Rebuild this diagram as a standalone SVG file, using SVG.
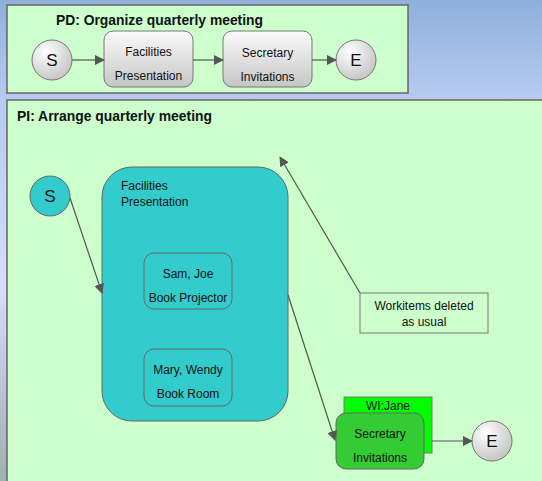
<svg xmlns="http://www.w3.org/2000/svg" width="542" height="481" viewBox="0 0 542 481">
<defs>
<linearGradient id="bg" x1="0" y1="0" x2="0" y2="1">
<stop offset="0" stop-color="#8db0dc"/>
<stop offset="0.2" stop-color="#b6caf0"/>
<stop offset="0.6" stop-color="#d4dcfa"/>
<stop offset="1" stop-color="#9fb0b0"/>
</linearGradient>
<linearGradient id="gray" x1="0" y1="0" x2="0" y2="1">
<stop offset="0" stop-color="#fbfbfb"/>
<stop offset="1" stop-color="#c6c6c6"/>
</linearGradient>
<radialGradient id="ball" cx="0.35" cy="0.3" r="0.8">
<stop offset="0" stop-color="#ffffff"/>
<stop offset="1" stop-color="#c0c0c0"/>
</radialGradient>
<marker id="arr" viewBox="0 0 10 10" refX="9" refY="5" markerWidth="10" markerHeight="10" markerUnits="userSpaceOnUse" orient="auto">
<path d="M0,0 L10,5 L0,10 z" fill="#555"/>
</marker>
<style>
text{font-family:"Liberation Sans",Arial,sans-serif;font-size:12px;fill:#111;}
.t{font-weight:bold;font-size:14px;}
.c{text-anchor:middle;}
.big{font-size:17px;}
.pane{fill:#ccffcc;stroke:#666;stroke-width:1.5;}
.gnode{fill:url(#gray);stroke:#777;stroke-width:1;}
.ball{fill:url(#ball);stroke:#777;stroke-width:1;}
.teal{fill:#33cccc;stroke:#666;stroke-width:1;}
.conn{stroke:#555;stroke-width:1.2;fill:none;marker-end:url(#arr);}
</style>
</defs>
<rect x="0" y="0" width="542" height="481" fill="url(#bg)"/>
<g id="pd">
<rect class="pane" x="7" y="5" width="401" height="88"/>
<text class="t" x="56" y="25" textLength="207" lengthAdjust="spacingAndGlyphs">PD: Organize quarterly meeting</text>
</g>
<g id="pd-s"><circle class="ball" cx="52" cy="60" r="20"/><text class="c big" x="52" y="66">S</text></g>
<g id="pd-fac"><rect class="gnode" x="104" y="31" width="89" height="56" rx="9"/><text class="c" x="148.5" y="56">Facilities</text><text class="c" x="148.5" y="80">Presentation</text></g>
<g id="pd-sec"><rect class="gnode" x="223" y="31" width="89" height="56" rx="9"/><text class="c" x="267.5" y="57">Secretary</text><text class="c" x="267.5" y="81">Invitations</text></g>
<g id="pd-e"><circle class="ball" cx="356" cy="60" r="20"/><text class="c big" x="356" y="66">E</text></g>
<g id="pi">
<rect class="pane" x="7" y="100" width="545" height="390"/>
<text class="t" x="17" y="121" textLength="195" lengthAdjust="spacingAndGlyphs">PI: Arrange quarterly meeting</text>
</g>
<g id="pi-s"><circle class="teal" cx="50" cy="196" r="20"/><text class="c big" x="50" y="202">S</text></g>
<g id="pi-fac"><rect class="teal" x="102" y="167" width="186" height="254" rx="30"/><text x="121" y="190">Facilities</text><text x="121" y="206">Presentation</text></g>
<g id="pi-sam"><rect class="teal" x="144" y="253" width="88" height="56" rx="10"/><text class="c" x="188" y="278">Sam, Joe</text><text class="c" x="188" y="302">Book Projector</text></g>
<g id="pi-mary"><rect class="teal" x="144" y="349" width="88" height="57" rx="10"/><text class="c" x="188" y="374">Mary, Wendy</text><text class="c" x="188" y="398">Book Room</text></g>
<g id="note"><rect x="360" y="293" width="128" height="40" fill="#ccffcc" stroke="#777" stroke-width="1"/><text class="c" x="424" y="310">Workitems deleted</text><text class="c" x="424" y="326">as usual</text></g>
<g id="wi"><rect x="344" y="397" width="88" height="56" fill="#00ff00" stroke="#777" stroke-width="1"/><text class="c" x="388" y="410">WI:Jane</text></g>
<g id="pi-sec"><rect x="336" y="413" width="88" height="56" rx="10" fill="#33cc33" stroke="#666" stroke-width="1"/><text class="c" x="380" y="438">Secretary</text><text class="c" x="380" y="462">Invitations</text></g>
<g id="pi-e"><circle class="ball" cx="492" cy="441" r="20"/><text class="c big" x="492" y="447">E</text></g>
<g id="connectors">
<line class="conn" x1="72" y1="60" x2="104" y2="60"/>
<line class="conn" x1="193" y1="60" x2="223" y2="60"/>
<line class="conn" x1="312" y1="60" x2="336" y2="60"/>
<line class="conn" x1="70" y1="198" x2="102" y2="293"/>
<line class="conn" x1="288" y1="295" x2="335" y2="440"/>
<line class="conn" x1="360" y1="293" x2="280" y2="157"/>
<line class="conn" x1="432" y1="441" x2="472" y2="441"/>
</g>
</svg>
